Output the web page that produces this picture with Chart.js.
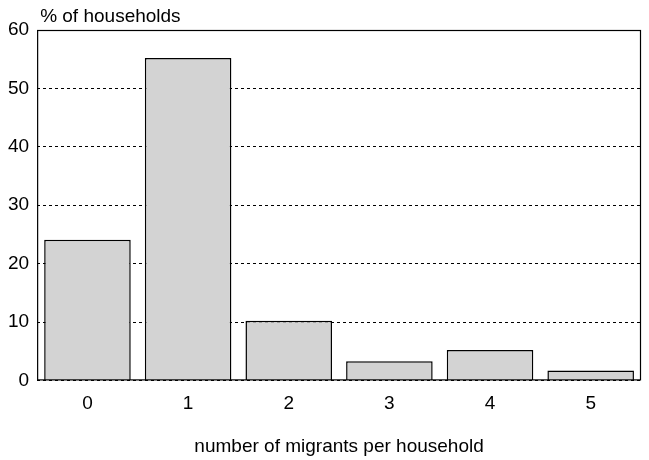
<!DOCTYPE html>
<html><head><meta charset="utf-8">
<script src="https://cdn.jsdelivr.net/npm/chart.js@4/dist/chart.umd.min.js"></script>
<style>html,body{margin:0;padding:0;background:#fff}#w{width:649px;height:460px}</style>
</head><body><div id="w"><canvas id="c"></canvas></div>
<script>
const categories = ["0","1","2","3","4","5"];
const values = [24.1, 55.2, 10.2, 3.3, 5.2, 1.7];
const yTicks = [0,10,20,30,40,50,60];
const yTitle = "% of households";
const xTitle = "number of migrants per household";
const FONT = "'Liberation Sans', Arial, sans-serif";
const topLabel = {
  id:'topLabel',
  afterDraw(ch){
    const c=ch.ctx, a=ch.chartArea;
    c.save(); c.font="19px "+FONT; c.fillStyle="#000"; c.textBaseline="bottom";
    c.fillText(yTitle, a.left+3, a.top-4);
    c.strokeStyle="#000"; c.lineWidth=1.2; c.setLineDash([]);
    c.strokeRect(a.left+0.5,a.top+0.5,a.right-a.left-1,a.bottom-a.top-1);
    c.restore();
  }
};
new Chart(document.getElementById('c'),{
  type:'bar',
  data:{labels:categories,datasets:[{data:values,backgroundColor:'#d3d3d3',borderColor:'#000',borderWidth:1.5,barPercentage:0.86,categoryPercentage:1}]},
  options:{
    responsive:true,maintainAspectRatio:false,animation:false,
    layout:{padding:{top:30,right:8,left:0,bottom:2}},
    plugins:{legend:{display:false},tooltip:{enabled:false}},
    scales:{
      x:{grid:{display:false,drawTicks:false},border:{display:false},
         ticks:{color:'#000',font:{size:19,family:FONT},padding:12},
         title:{display:true,text:xTitle,color:'#000',font:{size:19,family:FONT},padding:{top:8,bottom:0}}},
      y:{min:0,max:60,afterBuildTicks(s){s.ticks=yTicks.map(v=>({value:v}));},
         grid:{color:'#000',drawTicks:false,lineWidth:1},border:{display:false,dash:[3,3]},
         ticks:{color:'#000',font:{size:19,family:FONT},padding:8}}
    }
  },
  plugins:[topLabel]
});
</script></body></html>
